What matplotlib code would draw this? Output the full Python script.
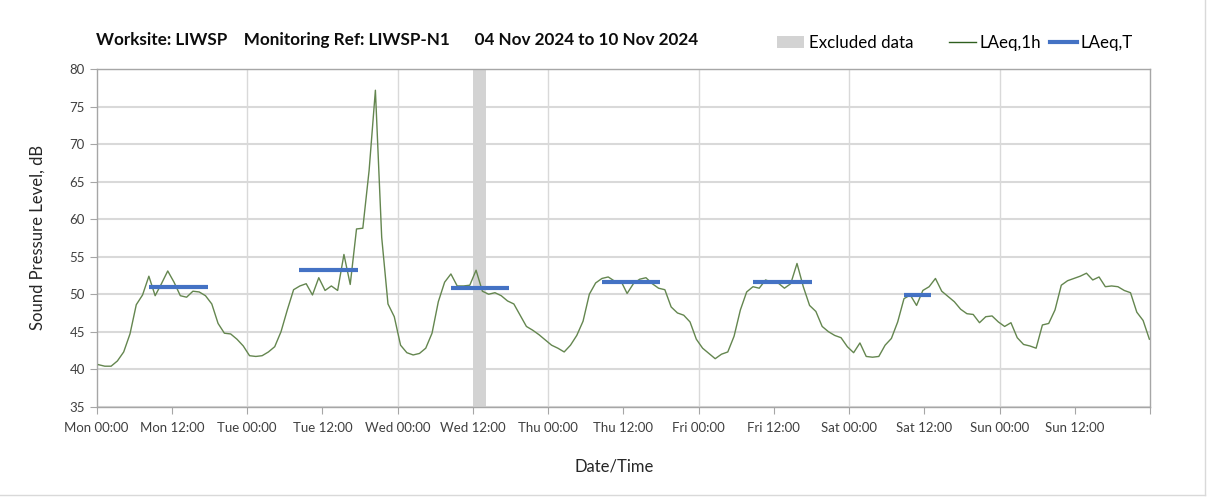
import numpy as np
import matplotlib
matplotlib.use('Agg')
import matplotlib.pyplot as plt
from matplotlib.patches import Patch
from matplotlib.lines import Line2D

plt.rcParams['font.family'] = ['Lato', 'DejaVu Sans']

# hourly LAeq,1h values (dB), one list per day, 00:00 .. 23:00
mon = [40.6, 40.4, 40.4, 41.1, 42.3, 44.7, 48.6, 49.9, 52.4, 49.8, 51.4, 53.1,
       51.6, 49.8, 49.6, 50.4, 50.3, 49.8, 48.7, 46.1, 44.8, 44.7, 44.0, 43.1]
tue = [41.8, 41.7, 41.8, 42.3, 43.0, 45.0, 47.9, 50.6, 51.1, 51.4, 49.9, 52.2,
       50.5, 51.1, 50.5, 55.3, 51.3, 58.7, 58.8, 66.5, 77.2, 57.6, 48.7, 47.0]
wed = [43.2, 42.2, 41.9, 42.1, 42.8, 44.8, 49.0, 51.6, 52.7, 51.1, 51.1, 51.2,
       53.2, 50.4, 50.0, 50.2, 49.8, 49.1, 48.7, 47.2, 45.7, 45.2, 44.6, 43.9]
thu = [43.2, 42.8, 42.3, 43.2, 44.5, 46.4, 50.0, 51.5, 52.1, 52.3, 51.75, 51.8,
       50.1, 51.4, 52.0, 52.2, 51.4, 50.8, 50.6, 48.3, 47.5, 47.2, 46.3, 44.0]
fri = [42.8, 42.1, 41.4, 42.0, 42.3, 44.4, 47.9, 50.3, 51.0, 50.8, 51.9, 51.6,
       51.5, 50.8, 51.4, 54.1, 51.0, 48.5, 47.7, 45.7, 45.0, 44.5, 44.2, 43.0]
sat = [42.2, 43.5, 41.7, 41.6, 41.7, 43.2, 44.1, 46.3, 49.4, 49.9, 48.5, 50.5,
       51.0, 52.1, 50.4, 49.7, 49.0, 48.0, 47.4, 47.3, 46.2, 47.0, 47.1, 46.3]
sun = [45.7, 46.2, 44.2, 43.3, 43.1, 42.8, 45.9, 46.1, 47.9, 51.2, 51.8, 52.1,
       52.4, 52.8, 51.9, 52.3, 51.0, 51.1, 51.0, 50.5, 50.2, 47.6, 46.5, 44.0]

# LAeq,T over the daytime periods (hours from Mon 00:00)
period_start = [8.3, 32.3, 56.5, 80.6, 104.7, 128.8]
period_end = [17.7, 41.7, 65.8, 89.9, 114.1, 133.1]
laeq_t = [51.0, 53.2, 50.85, 51.6, 51.65, 49.95]

# excluded data window (hours from Mon 00:00)
excl_start = [60.1]
excl_end = [62.1]

day_names = ['Mon', 'Tue', 'Wed', 'Thu', 'Fri', 'Sat', 'Sun']

laeq_1h = np.array(mon + tue + wed + thu + fri + sat + sun)
# logged timestamps drift slightly against the axis
hours = np.linspace(0.3, 167.9, len(laeq_1h))

fig = plt.figure(figsize=(12.08, 4.97), dpi=100)
ax = fig.add_axes([0.080, 0.1817, 0.872, 0.679])

for s, e in zip(excl_start, excl_end):
    ax.axvspan(s, e, color='#d3d3d3', lw=0, zorder=1)

ax.plot(hours, laeq_1h, color='#64864f', lw=1.0, zorder=3)
ax.hlines(laeq_t, period_start, period_end, color='#4472c4', lw=3, zorder=4)

ax.set_xlim(0, 168)
ax.set_ylim(35, 80)
ax.set_yticks(range(35, 81, 5))
ax.yaxis.grid(True, color='#d9d9d9', lw=1.5, zorder=0)
for d in range(24, 168, 24):
    ax.axvline(d, color='#d9d9d9', lw=1, zorder=0)

xt = list(range(0, 169, 12))
xl = [f'{day_names[t // 24]} {t % 24:02d}:00' for t in xt[:-1]] + ['']
ax.set_xticks(xt)
ax.set_xticklabels(xl)

for sp in ax.spines.values():
    sp.set_color('#a6a6a6')
    sp.set_linewidth(1)
ax.tick_params(axis='both', length=5, color='#a6a6a6', labelcolor='#404040', labelsize=9.5)
ax.tick_params(axis='x', pad=6)
ax.set_axisbelow(True)

fig.text(38 / 1208, 1 - 237 / 497, 'Sound Pressure Level, dB', rotation=90,
         ha='center', va='center', fontsize=12, color='#262626')
fig.text(614 / 1208, 1 - 466 / 497, 'Date/Time', ha='center', va='center',
         fontsize=12, color='#262626')
fig.text(96 / 1208, 1 - 40 / 497,
         'Worksite: LIWSP    Monitoring Ref: LIWSP-N1      04 Nov 2024 to 10 Nov 2024',
         ha='left', va='center', fontsize=12.3, fontweight='bold', color='#0d0d0d')

fig.legend(handles=[Patch(facecolor='#d3d3d3', edgecolor='none', label='Excluded data')],
           loc='center left', bbox_to_anchor=(762 / 1208, 1 - 43 / 497),
           frameon=False, fontsize=12.2, handlelength=1.6, handletextpad=0.25)
fig.legend(handles=[Line2D([], [], color='#2f5f1f', lw=1, label='LAeq,1h'),
                    Line2D([], [], color='#4472c4', lw=3, label='LAeq,T')],
           loc='center left', bbox_to_anchor=(934 / 1208, 1 - 43 / 497), ncol=2,
           frameon=False, fontsize=12.2, handlelength=1.6, handletextpad=0.2,
           columnspacing=0.5)

# light chart-area border
fig.add_artist(Line2D([1205 / 1208, 1205 / 1208], [0.004, 1], transform=fig.transFigure,
                      color='#d9d9d9', lw=1))
fig.add_artist(Line2D([0, 1205 / 1208], [0.004, 0.004], transform=fig.transFigure,
                      color='#d9d9d9', lw=1))

fig.savefig('out.png', dpi=100)
